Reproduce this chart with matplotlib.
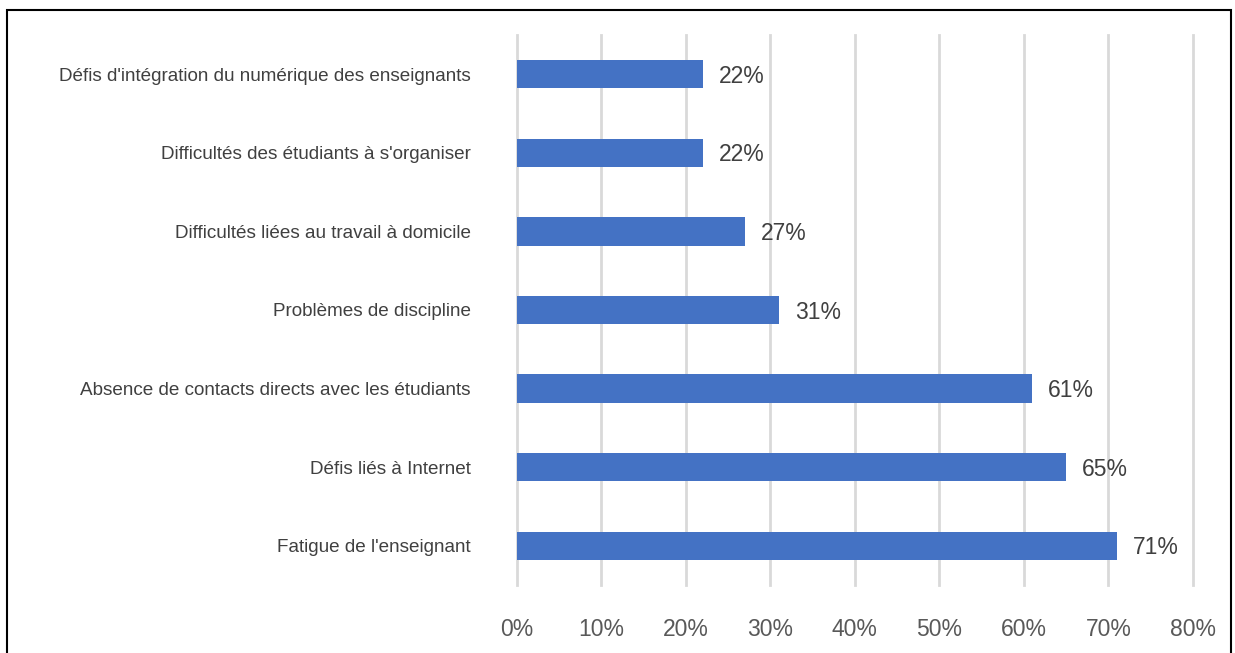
import matplotlib
matplotlib.use("Agg")
import matplotlib.pyplot as plt
from matplotlib.patches import Rectangle

categories = [
    "Défis d'intégration du numérique des enseignants",
    "Difficultés des étudiants à s'organiser",
    "Difficultés liées au travail à domicile",
    "Problèmes de discipline",
    "Absence de contacts directs avec les étudiants",
    "Défis liés à Internet",
    "Fatigue de l'enseignant",
]
values = [22, 22, 27, 31, 61, 65, 71]
xticks = [0, 10, 20, 30, 40, 50, 60, 70, 80]
xtick_labels = [f"{t}%" for t in xticks]

plt.rcParams['font.family'] = ['Liberation Sans', 'DejaVu Sans']

W, H = 1235, 653
fig = plt.figure(figsize=(W / 100, H / 100), dpi=100)
ax = fig.add_axes([516.7 / W, 1 - 585 / H, (1193 - 516.7) / W, (585 - 35) / H])

ypos = list(range(len(categories)))[::-1]
bars = ax.barh(ypos, values, height=0.36, color="#4472C4", zorder=3)
for y, v in zip(ypos, values):
    ax.annotate(f"{v}%", xy=(v, y), xytext=(11.5, -1.5), textcoords="offset points",
                ha="left", va="center", fontsize=16.5, color="#404040")

ax.set_xlim(0, 80)
ax.set_ylim(-0.5, 6.5)
ax.set_xticks(xticks)
ax.set_xticklabels(xtick_labels, fontsize=16.5, color="#595959")
ax.set_yticks(ypos)
ax.set_yticklabels(categories, fontsize=13.6, color="#404040")
ax.tick_params(axis="x", length=0, pad=24)
ax.tick_params(axis="y", length=0, pad=33)
ax.grid(axis="x", color="#D9D9D9", linewidth=2, zorder=0)
for gl in ax.get_xgridlines():
    gl.set_clip_on(False)
for s in ax.spines.values():
    s.set_visible(False)

fig.patches.append(Rectangle((7 / W, -0.05), (1231 - 7) / W, (H - 10) / H + 0.05,
                             transform=fig.transFigure, fill=False,
                             edgecolor="black", linewidth=1.5))

fig.savefig("out.png", dpi=100)
